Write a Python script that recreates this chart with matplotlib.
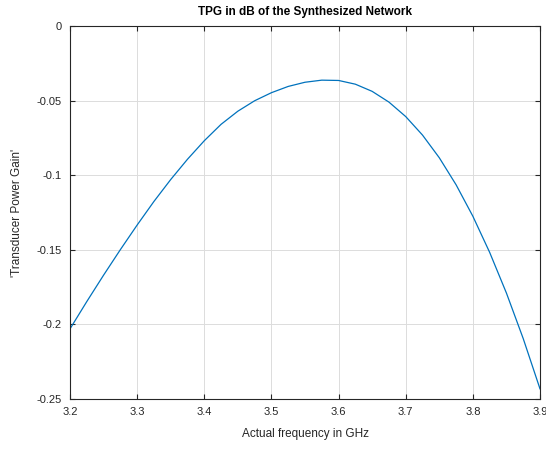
import numpy as np
import matplotlib
matplotlib.use("Agg")
import matplotlib.pyplot as plt

# frequency in GHz and TPG in dB
freq = [3.200, 3.225, 3.250, 3.275, 3.300, 3.325, 3.350, 3.375, 3.400, 3.425,
        3.450, 3.475, 3.500, 3.525, 3.550, 3.575, 3.600, 3.625, 3.650, 3.675,
        3.700, 3.725, 3.750, 3.775, 3.800, 3.825, 3.850, 3.875, 3.900]
tpg = [-0.2030, -0.1847, -0.1670, -0.1499, -0.1334, -0.1176, -0.1029, -0.0893, -0.0769, -0.0659,
       -0.0571, -0.0501, -0.0447, -0.0405, -0.0377, -0.0363, -0.0365, -0.0390, -0.0438, -0.0510,
       -0.0607, -0.0731, -0.0883, -0.1064, -0.1275, -0.1517, -0.1790, -0.2095, -0.2432]

xticks = [3.2, 3.3, 3.4, 3.5, 3.6, 3.7, 3.8, 3.9]
xticklabels = ["3.2", "3.3", "3.4", "3.5", "3.6", "3.7", "3.8", "3.9"]
yticks = [-0.25, -0.2, -0.15, -0.1, -0.05, 0]
yticklabels = ["-0.25", "-0.2", "-0.15", "-0.1", "-0.05", "0"]

plt.rcParams['font.family'] = ['Liberation Sans', 'DejaVu Sans']

fig = plt.figure(figsize=(5.46, 4.5), dpi=100)
ax = fig.add_axes([70/546, 1-399/450, 470/546, 373/450])

ax.plot(freq, tpg, color="#0072BD", linewidth=0.9, solid_joinstyle="round")

ax.set_xlim(3.2, 3.9)
ax.set_ylim(-0.25, 0)
ax.set_xticks(xticks)
ax.set_xticklabels(xticklabels)
ax.set_yticks(yticks)
ax.set_yticklabels(yticklabels)

ax.grid(True, color="#dcdcdc", linewidth=0.7)
ax.set_axisbelow(True)
ax.tick_params(direction="in", length=3.5, width=0.8, colors="#262626",
               labelsize=8, top=True, right=True, pad=6)
for s in ax.spines.values():
    s.set_color("#262626")
    s.set_linewidth(0.8)

ax.set_xlabel("Actual frequency in GHz", fontsize=8.5, color="#262626", labelpad=8)
ax.set_ylabel("'Transducer Power Gain'", fontsize=8.5, color="#262626", labelpad=10)
ax.set_title("TPG in dB of the Synthesized Network", fontsize=8.5, fontweight="bold",
             color="black", pad=8)

fig.savefig("out.png", dpi=100)
